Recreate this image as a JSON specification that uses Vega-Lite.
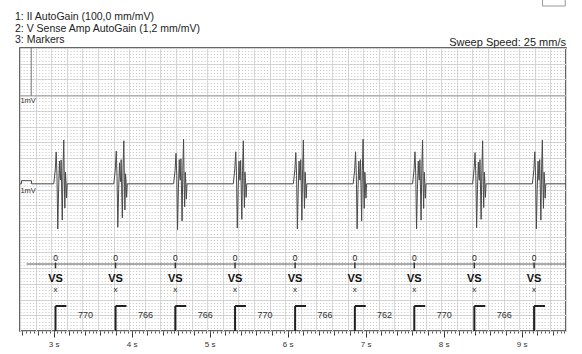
{
  "$schema": "https://vega.github.io/schema/vega-lite/v6.json",
  "width": 546,
  "height": 283,
  "autosize": {"type": "none"},
  "padding": {"left": 20, "top": 48, "right": 16, "bottom": 23},
  "background": "white",
  "config": {
    "font": "Liberation Sans",
    "view": {"stroke": "#333333", "strokeWidth": 1.5}
  },
  "datasets": {
    "ecg": [
      {"t": 2.57, "v": 9.36}, {"t": 2.59, "v": 9.36}, {"t": 2.5901, "v": 9.56}, {"t": 2.718, "v": 9.56}, {"t": 2.7181, "v": 9.36},
      {"t": 3.003, "v": 9.36}, {"t": 3.022, "v": 10.24}, {"t": 3.034, "v": 11.39}, {"t": 3.044, "v": 9.92}, {"t": 3.054, "v": 6.49}, {"t": 3.065, "v": 8.97}, {"t": 3.076, "v": 10.81}, {"t": 3.082, "v": 9.92}, {"t": 3.089, "v": 9.61}, {"t": 3.097, "v": 10.88}, {"t": 3.106, "v": 8.59}, {"t": 3.112, "v": 7.06}, {"t": 3.121, "v": 10.24}, {"t": 3.131, "v": 12.15}, {"t": 3.139, "v": 9.29}, {"t": 3.145, "v": 7.82}, {"t": 3.153, "v": 10.11}, {"t": 3.161, "v": 9.35}, {"t": 3.167, "v": 8.46}, {"t": 3.175, "v": 9.36},
      {"t": 3.773, "v": 9.36}, {"t": 3.792, "v": 10.3}, {"t": 3.804, "v": 11.45}, {"t": 3.814, "v": 9.8}, {"t": 3.824, "v": 6.6}, {"t": 3.835, "v": 9.0}, {"t": 3.846, "v": 10.7}, {"t": 3.852, "v": 9.9}, {"t": 3.859, "v": 9.5}, {"t": 3.867, "v": 10.9}, {"t": 3.876, "v": 8.5}, {"t": 3.882, "v": 7.2}, {"t": 3.891, "v": 10.3}, {"t": 3.901, "v": 12.1}, {"t": 3.909, "v": 9.2}, {"t": 3.915, "v": 7.7}, {"t": 3.923, "v": 10.0}, {"t": 3.931, "v": 9.4}, {"t": 3.937, "v": 8.5}, {"t": 3.945, "v": 9.36},
      {"t": 4.539, "v": 9.36}, {"t": 4.558, "v": 10.2}, {"t": 4.57, "v": 11.3}, {"t": 4.58, "v": 9.9}, {"t": 4.59, "v": 6.45}, {"t": 4.601, "v": 9.1}, {"t": 4.612, "v": 10.9}, {"t": 4.618, "v": 9.8}, {"t": 4.625, "v": 9.6}, {"t": 4.633, "v": 10.95}, {"t": 4.642, "v": 8.6}, {"t": 4.648, "v": 7.0}, {"t": 4.657, "v": 10.2}, {"t": 4.667, "v": 12.2}, {"t": 4.675, "v": 9.3}, {"t": 4.681, "v": 7.9}, {"t": 4.689, "v": 10.1}, {"t": 4.697, "v": 9.3}, {"t": 4.703, "v": 8.4}, {"t": 4.711, "v": 9.36},
      {"t": 5.305, "v": 9.36}, {"t": 5.324, "v": 10.3}, {"t": 5.336, "v": 11.4}, {"t": 5.346, "v": 9.9}, {"t": 5.356, "v": 6.55}, {"t": 5.367, "v": 9.0}, {"t": 5.378, "v": 10.8}, {"t": 5.384, "v": 9.9}, {"t": 5.391, "v": 9.6}, {"t": 5.399, "v": 10.85}, {"t": 5.408, "v": 8.6}, {"t": 5.414, "v": 7.1}, {"t": 5.423, "v": 10.2}, {"t": 5.433, "v": 12.1}, {"t": 5.441, "v": 9.3}, {"t": 5.447, "v": 7.85}, {"t": 5.455, "v": 10.1}, {"t": 5.463, "v": 9.35}, {"t": 5.469, "v": 8.5}, {"t": 5.477, "v": 9.36},
      {"t": 6.075, "v": 9.36}, {"t": 6.094, "v": 10.25}, {"t": 6.106, "v": 11.35}, {"t": 6.116, "v": 9.9}, {"t": 6.126, "v": 6.5}, {"t": 6.137, "v": 8.95}, {"t": 6.148, "v": 10.8}, {"t": 6.154, "v": 9.9}, {"t": 6.161, "v": 9.6}, {"t": 6.169, "v": 10.9}, {"t": 6.178, "v": 8.6}, {"t": 6.184, "v": 7.05}, {"t": 6.193, "v": 10.25}, {"t": 6.203, "v": 12.15}, {"t": 6.211, "v": 9.3}, {"t": 6.217, "v": 7.8}, {"t": 6.225, "v": 10.1}, {"t": 6.233, "v": 9.35}, {"t": 6.239, "v": 8.45}, {"t": 6.247, "v": 9.36},
      {"t": 6.841, "v": 9.36}, {"t": 6.86, "v": 10.2}, {"t": 6.872, "v": 11.4}, {"t": 6.882, "v": 9.9}, {"t": 6.892, "v": 6.5}, {"t": 6.903, "v": 9.0}, {"t": 6.914, "v": 10.8}, {"t": 6.92, "v": 9.9}, {"t": 6.927, "v": 9.6}, {"t": 6.935, "v": 10.9}, {"t": 6.944, "v": 8.6}, {"t": 6.95, "v": 7.0}, {"t": 6.959, "v": 10.2}, {"t": 6.969, "v": 12.2}, {"t": 6.977, "v": 9.3}, {"t": 6.983, "v": 7.8}, {"t": 6.991, "v": 10.1}, {"t": 6.999, "v": 9.35}, {"t": 7.005, "v": 8.45}, {"t": 7.013, "v": 9.36},
      {"t": 7.603, "v": 9.36}, {"t": 7.622, "v": 10.25}, {"t": 7.634, "v": 11.4}, {"t": 7.644, "v": 9.9}, {"t": 7.654, "v": 6.5}, {"t": 7.665, "v": 9.0}, {"t": 7.676, "v": 10.8}, {"t": 7.682, "v": 9.9}, {"t": 7.689, "v": 9.6}, {"t": 7.697, "v": 10.9}, {"t": 7.706, "v": 8.6}, {"t": 7.712, "v": 7.05}, {"t": 7.721, "v": 10.25}, {"t": 7.731, "v": 12.15}, {"t": 7.739, "v": 9.3}, {"t": 7.745, "v": 7.8}, {"t": 7.753, "v": 10.1}, {"t": 7.761, "v": 9.35}, {"t": 7.767, "v": 8.45}, {"t": 7.775, "v": 9.36},
      {"t": 8.373, "v": 9.36}, {"t": 8.392, "v": 10.3}, {"t": 8.404, "v": 11.35}, {"t": 8.414, "v": 9.9}, {"t": 8.424, "v": 6.55}, {"t": 8.435, "v": 9.0}, {"t": 8.446, "v": 10.75}, {"t": 8.452, "v": 9.9}, {"t": 8.459, "v": 9.6}, {"t": 8.467, "v": 10.9}, {"t": 8.476, "v": 8.6}, {"t": 8.482, "v": 7.1}, {"t": 8.491, "v": 10.2}, {"t": 8.501, "v": 12.1}, {"t": 8.509, "v": 9.3}, {"t": 8.515, "v": 7.85}, {"t": 8.523, "v": 10.1}, {"t": 8.531, "v": 9.35}, {"t": 8.537, "v": 8.5}, {"t": 8.545, "v": 9.36},
      {"t": 9.139, "v": 9.36}, {"t": 9.158, "v": 10.25}, {"t": 9.17, "v": 11.4}, {"t": 9.18, "v": 9.9}, {"t": 9.19, "v": 6.5}, {"t": 9.201, "v": 9.0}, {"t": 9.212, "v": 10.8}, {"t": 9.218, "v": 9.9}, {"t": 9.225, "v": 9.6}, {"t": 9.233, "v": 10.9}, {"t": 9.242, "v": 8.6}, {"t": 9.248, "v": 7.05}, {"t": 9.257, "v": 10.25}, {"t": 9.267, "v": 12.15}, {"t": 9.275, "v": 9.3}, {"t": 9.281, "v": 7.8}, {"t": 9.289, "v": 10.1}, {"t": 9.297, "v": 9.35}, {"t": 9.303, "v": 8.45}, {"t": 9.311, "v": 9.36},
      {"t": 9.57, "v": 9.36}
    ],
    "beats": [
      {"t": 3.025, "h": 3.165, "iv": "770", "m": 3.41},
      {"t": 3.795, "h": 3.935, "iv": "766", "m": 4.178},
      {"t": 4.561, "h": 4.701, "iv": "766", "m": 4.944},
      {"t": 5.327, "h": 5.467, "iv": "770", "m": 5.712},
      {"t": 6.097, "h": 6.237, "iv": "766", "m": 6.48},
      {"t": 6.863, "h": 7.003, "iv": "762", "m": 7.244},
      {"t": 7.625, "h": 7.765, "iv": "770", "m": 8.01},
      {"t": 8.395, "h": 8.535, "iv": "766", "m": 8.778},
      {"t": 9.161, "h": 9.301, "iv": "", "m": 9.5}
    ],
    "labels": [
      {"t": 2.575, "v": 14.63, "s": "1mV"},
      {"t": 2.575, "v": 8.9, "s": "1mV"}
    ],
    "header": [
      {"t": 2.57, "v": 19.95, "s": "1: II AutoGain (100,0 mm/mV)"},
      {"t": 2.57, "v": 19.2, "s": "2: V Sense Amp AutoGain (1,2 mm/mV)"},
      {"t": 2.57, "v": 18.48, "s": "3: Markers"}
    ]
  },
  "resolve": {"axis": {"x": "independent", "y": "independent"}},
  "layer": [
    {
      "data": {"name": "ecg"},
      "mark": {"type": "line", "color": "#4a4a4a", "strokeWidth": 1},
      "encoding": {
        "x": {"field": "t", "type": "quantitative", "scale": {"domain": [2.57, 9.57], "nice": false, "zero": false},
          "axis": {"orient": "bottom", "title": null, "values": [2.57,2.77,2.97,3.17,3.37,3.57,3.77,3.97,4.17,4.37,4.57,4.77,4.97,5.17,5.37,5.57,5.77,5.97,6.17,6.37,6.57,6.77,6.97,7.17,7.37,7.57,7.77,7.97,8.17,8.37,8.57,8.77,8.97,9.17,9.37,9.57],
            "grid": true, "gridColor": "#d9d9d9", "gridWidth": 1, "ticks": false, "labels": false, "domain": false}},
        "y": {"field": "v", "type": "quantitative", "scale": {"domain": [0, 18], "nice": false, "zero": false},
          "axis": {"orient": "left", "title": null, "values": [0,1,2,3,4,5,6,7,8,9,10,11,12,13,14,15,16,17,18],
            "grid": true, "gridColor": "#d9d9d9", "gridWidth": 1, "ticks": false, "labels": false, "domain": false}}
      }
    },
    {
      "data": {"values": [{}]},
      "mark": {"type": "rule", "color": "#555555", "strokeWidth": 1},
      "encoding": {
        "x": {"datum": 2.654, "type": "quantitative", "scale": {"domain": [2.57, 9.57], "nice": false, "zero": false},
          "axis": {"orient": "bottom", "title": null, "values": [3,4,5,6,7,8,9], "labelExpr": "datum.value + ' s'",
            "grid": false, "domain": false, "tickSize": 6, "tickColor": "#333333", "labelFontSize": 8, "labelColor": "#333333", "labelPadding": 3, "labelFont": "Liberation Sans"}},
        "x2": {"datum": 9.57},
        "y": {"datum": 4.26, "type": "quantitative", "scale": {"domain": [0, 18], "nice": false, "zero": false},
          "axis": {"orient": "left", "title": null, "tickCount": 90, "grid": true, "gridDash": [1, 2.12], "gridColor": "#c4c4c4", "gridWidth": 1, "ticks": false, "labels": false, "domain": false}}
      }
    },
    {
      "data": {"name": "beats"},
      "mark": {"type": "rule", "color": "#333333", "strokeWidth": 1.5},
      "encoding": {
        "x": {"field": "t", "type": "quantitative", "scale": {"domain": [2.57, 9.57], "nice": false, "zero": false},
          "axis": {"orient": "bottom", "title": null, "tickCount": 35, "tickSize": 4, "tickColor": "#333333", "labels": false, "grid": false, "domain": false}},
        "y": {"datum": 4.35, "type": "quantitative", "scale": {"domain": [0, 18], "nice": false, "zero": false}, "axis": null},
        "y2": {"datum": 3.99}
      }
    },
    {
      "data": {"name": "beats"},
      "mark": {"type": "rule", "color": "#222222", "strokeWidth": 2},
      "encoding": {
        "x": {"field": "t", "type": "quantitative", "scale": {"domain": [2.57, 9.57], "nice": false, "zero": false},
          "axis": {"orient": "bottom", "title": null, "tickCount": 140, "tickSize": 2, "tickColor": "#555555", "labels": false, "grid": false, "domain": false}},
        "y": {"datum": 0, "type": "quantitative", "scale": {"domain": [0, 18], "nice": false, "zero": false}, "axis": null},
        "y2": {"datum": 1.59}
      }
    },
    {
      "data": {"name": "beats"},
      "mark": {"type": "rule", "color": "#222222", "strokeWidth": 2},
      "encoding": {
        "x": {"field": "t", "type": "quantitative", "scale": {"domain": [2.57, 9.57], "nice": false, "zero": false}, "axis": null},
        "x2": {"field": "h"},
        "y": {"datum": 1.59, "type": "quantitative", "scale": {"domain": [0, 18], "nice": false, "zero": false}, "axis": null}
      }
    },
    {
      "data": {"name": "beats"},
      "mark": {"type": "text", "fontSize": 8.5, "color": "#222222", "align": "center", "baseline": "middle"},
      "encoding": {
        "x": {"field": "t", "type": "quantitative", "scale": {"domain": [2.57, 9.57], "nice": false, "zero": false}, "axis": null},
        "y": {"datum": 4.62, "type": "quantitative", "scale": {"domain": [0, 18], "nice": false, "zero": false}, "axis": null},
        "text": {"value": "0"}
      }
    },
    {
      "data": {"name": "beats"},
      "mark": {"type": "text", "fontSize": 11, "fontWeight": "bold", "color": "#111111", "align": "center", "baseline": "middle"},
      "encoding": {
        "x": {"field": "t", "type": "quantitative", "scale": {"domain": [2.57, 9.57], "nice": false, "zero": false}, "axis": null},
        "y": {"datum": 3.29, "type": "quantitative", "scale": {"domain": [0, 18], "nice": false, "zero": false}, "axis": null},
        "text": {"value": "VS"}
      }
    },
    {
      "data": {"name": "beats"},
      "mark": {"type": "text", "fontSize": 8, "color": "#222222", "align": "center", "baseline": "middle"},
      "encoding": {
        "x": {"field": "t", "type": "quantitative", "scale": {"domain": [2.57, 9.57], "nice": false, "zero": false}, "axis": null},
        "y": {"datum": 2.61, "type": "quantitative", "scale": {"domain": [0, 18], "nice": false, "zero": false}, "axis": null},
        "text": {"value": "x"}
      }
    },
    {
      "data": {"name": "beats"},
      "mark": {"type": "text", "fontSize": 9, "color": "#333333", "align": "center", "baseline": "middle"},
      "encoding": {
        "x": {"field": "m", "type": "quantitative", "scale": {"domain": [2.57, 9.57], "nice": false, "zero": false}, "axis": null},
        "y": {"datum": 1.02, "type": "quantitative", "scale": {"domain": [0, 18], "nice": false, "zero": false}, "axis": null},
        "text": {"field": "iv"}
      }
    },
    {
      "data": {"values": [{}]},
      "mark": {"type": "rule", "color": "#9a9a9a", "strokeWidth": 1},
      "encoding": {
        "x": {"datum": 2.57, "type": "quantitative", "scale": {"domain": [2.57, 9.57], "nice": false, "zero": false}, "axis": null},
        "x2": {"datum": 9.57},
        "y": {"datum": 14.95, "type": "quantitative", "scale": {"domain": [0, 18], "nice": false, "zero": false}, "axis": null}
      }
    },
    {
      "data": {"values": [{}]},
      "mark": {"type": "rule", "color": "#777777", "strokeWidth": 1},
      "encoding": {
        "x": {"datum": 2.714, "type": "quantitative", "scale": {"domain": [2.57, 9.57], "nice": false, "zero": false}, "axis": null},
        "y": {"datum": 14.95, "type": "quantitative", "scale": {"domain": [0, 18], "nice": false, "zero": false}, "axis": null},
        "y2": {"datum": 18}
      }
    },
    {
      "data": {"name": "labels"},
      "mark": {"type": "text", "fontSize": 7.5, "color": "#333333", "align": "left", "baseline": "middle"},
      "encoding": {
        "x": {"field": "t", "type": "quantitative", "scale": {"domain": [2.57, 9.57], "nice": false, "zero": false}, "axis": null},
        "y": {"field": "v", "type": "quantitative", "scale": {"domain": [0, 18], "nice": false, "zero": false}, "axis": null},
        "text": {"field": "s"}
      }
    },
    {
      "data": {"name": "header"},
      "mark": {"type": "text", "fontSize": 10.5, "color": "#222222", "align": "left", "baseline": "middle", "dx": -5},
      "encoding": {
        "x": {"field": "t", "type": "quantitative", "scale": {"domain": [2.57, 9.57], "nice": false, "zero": false}, "axis": null},
        "y": {"field": "v", "type": "quantitative", "scale": {"domain": [0, 18], "nice": false, "zero": false}, "axis": null},
        "text": {"field": "s"}
      }
    },
    {
      "data": {"values": [{"s": "Sweep Speed: 25 mm/s"}]},
      "mark": {"type": "text", "fontSize": 11, "color": "#222222", "align": "right", "baseline": "bottom", "dy": 0},
      "encoding": {
        "x": {"datum": 9.57, "type": "quantitative", "scale": {"domain": [2.57, 9.57], "nice": false, "zero": false}, "axis": null},
        "y": {"datum": 18, "type": "quantitative", "scale": {"domain": [0, 18], "nice": false, "zero": false}, "axis": null},
        "text": {"field": "s"}
      }
    },
    {
      "data": {"values": [{}]},
      "mark": {"type": "rect", "filled": false, "stroke": "#999999", "strokeWidth": 1},
      "encoding": {
        "x": {"datum": 9.269, "type": "quantitative", "scale": {"domain": [2.57, 9.57], "nice": false, "zero": false}, "axis": null},
        "x2": {"datum": 9.56},
        "y": {"datum": 20.67, "type": "quantitative", "scale": {"domain": [0, 18], "nice": false, "zero": false}, "axis": null},
        "y2": {"datum": 23}
      }
    }
  ]
}
